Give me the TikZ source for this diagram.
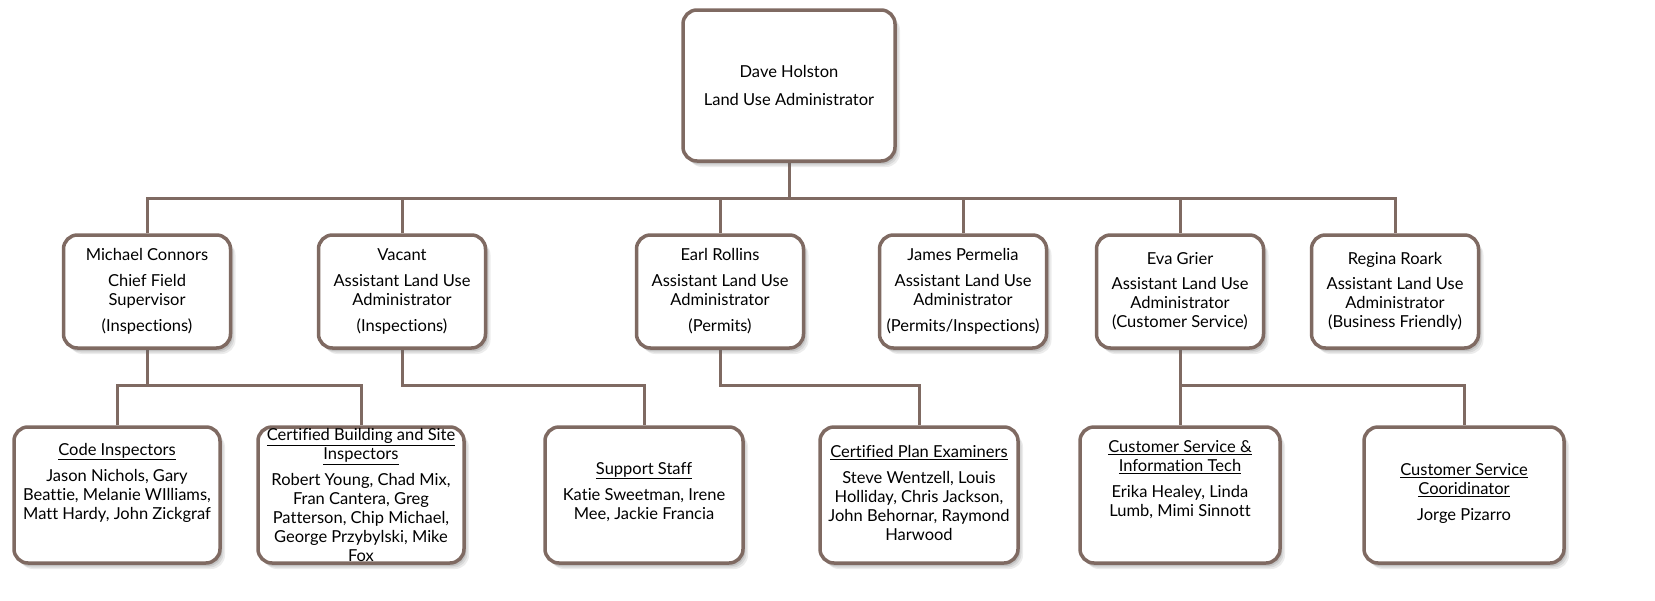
\documentclass[tikz,border=0pt]{standalone}
\usepackage{fontspec}
\setmainfont{Lato}[Ligatures={NoCommon}]
\usetikzlibrary{shadows,backgrounds}
\definecolor{bord}{HTML}{7F6A62}
\newcommand{\fsz}{\fontsize{16.5}{19}\selectfont}
\tikzset{
  box/.style={draw=bord, line width=3.5pt, rounded corners=14pt, fill=white,
    drop shadow={shadow xshift=5pt, shadow yshift=-6pt, opacity=0.12, fill=black!60},
    drop shadow={shadow xshift=3.5pt, shadow yshift=-4.5pt, opacity=0.15, fill=black!60},
    drop shadow={shadow xshift=2pt, shadow yshift=-3pt, opacity=0.2, fill=black!60},
    inner sep=0pt, align=center, font=\fsz},
  lvtwo/.style={box, minimum width=167pt, minimum height=113pt},
  lvthree/.style={box, minimum height=136pt},
  txt/.style={align=center, font=\fsz, inner sep=0pt},
  conn/.style={draw=bord, line width=3pt},
}
\begin{document}
\begin{tikzpicture}[x=1pt,y=-1pt]
\useasboundingbox (0,0) rectangle (1655,600);
% top
\node[box, minimum width=212pt, minimum height=151pt] (top) at (789,85.5) {Dave Holston\\[9pt]Land Use Administrator};
% level 2
\node[lvtwo] (mc) at (147,291.5) {Michael Connors\\[7pt]Chief Field\\Supervisor\\[7pt](Inspections)};
\node[lvtwo] (va) at (402,291.5) {Vacant\\[7pt]Assistant Land Use\\Administrator\\[7pt](Inspections)};
\node[lvtwo] (er) at (720,291.5) {Earl Rollins\\[7pt]Assistant Land Use\\Administrator\\[7pt](Permits)};
\node[lvtwo] (jp) at (963,291.5) {James Permelia\\[7pt]Assistant Land Use\\Administrator\\[7pt](Permits/Inspections)};
\node[lvtwo] (eg) at (1180,291.5) {Eva Grier\\[6pt]Assistant Land Use\\Administrator\\(Customer Service)};
\node[lvtwo] (rr) at (1395,291.5) {Regina Roark\\[6pt]Assistant Land Use\\Administrator\\(Business Friendly)};
% level 3 boxes
\node[lvthree, minimum width=206pt] (ci) at (117,495) {};
\node[lvthree, minimum width=206pt] (cb) at (361,495) {};
\node[lvthree, minimum width=198pt] (ss) at (644,495) {};
\node[lvthree, minimum width=198pt] (cp) at (919,495) {};
\node[lvthree, minimum width=200pt] (cs) at (1180,495) {};
\node[lvthree, minimum width=200pt] (cc) at (1464,495) {};
% level 3 texts
\node[txt] (ci-t) at (117,482.5) {\underline{Code Inspectors}\\[7pt]Jason Nichols, Gary\\Beattie, Melanie WIlliams,\\Matt Hardy, John Zickgraf};
\node[txt] (cb-t) at (361,495) {\underline{Certified Building and Site}\\\underline{Inspectors}\\[7pt]Robert Young, Chad Mix,\\Fran Cantera, Greg\\Patterson, Chip Michael,\\George Przybylski, Mike\\Fox};
\node[txt] (ss-t) at (644,492) {\underline{Support Staff}\\[7pt]Katie Sweetman, Irene\\Mee, Jackie Francia};
\node[txt] (cp-t) at (919,493) {\underline{Certified Plan Examiners}\\[7pt]Steve Wentzell, Louis\\Holliday, Chris Jackson,\\John Behornar, Raymond\\Harwood};
\node[txt] (cs-t) at (1180,479.5) {\underline{Customer Service \&}\\\underline{Information Tech}\\[7pt]Erika Healey, Linda\\Lumb, Mimi Sinnott};
\node[txt] (cc-t) at (1464,493.5) {\underline{Customer Service}\\\underline{Cooridinator}\\[7pt]Jorge Pizarro};
% connectors
\coordinate (busa) at (0,198);
\coordinate (busb) at (0,385);
\begin{pgfonlayer}{background}
\draw[conn] (top.south) -- (top.south |- busa);
\draw[conn] (mc.north) -- (mc.north |- busa) -- (rr.north |- busa) -- (rr.north);
\draw[conn] (va.north) -- (va.north |- busa);
\draw[conn] (er.north) -- (er.north |- busa);
\draw[conn] (jp.north) -- (jp.north |- busa);
\draw[conn] (eg.north) -- (eg.north |- busa);
\draw[conn] (mc.south) -- (mc.south |- busb);
\draw[conn] (ci.north) -- (ci.north |- busb) -- (cb.north |- busb) -- (cb.north);
\draw[conn] (va.south) -- (va.south |- busb) -- (ss.north |- busb) -- (ss.north);
\draw[conn] (er.south) -- (er.south |- busb) -- (cp.north |- busb) -- (cp.north);
\draw[conn] (eg.south) -- (cs.north);
\draw[conn] (eg.south |- busb) -- (cc.north |- busb) -- (cc.north);
\end{pgfonlayer}
\end{tikzpicture}
\end{document}
